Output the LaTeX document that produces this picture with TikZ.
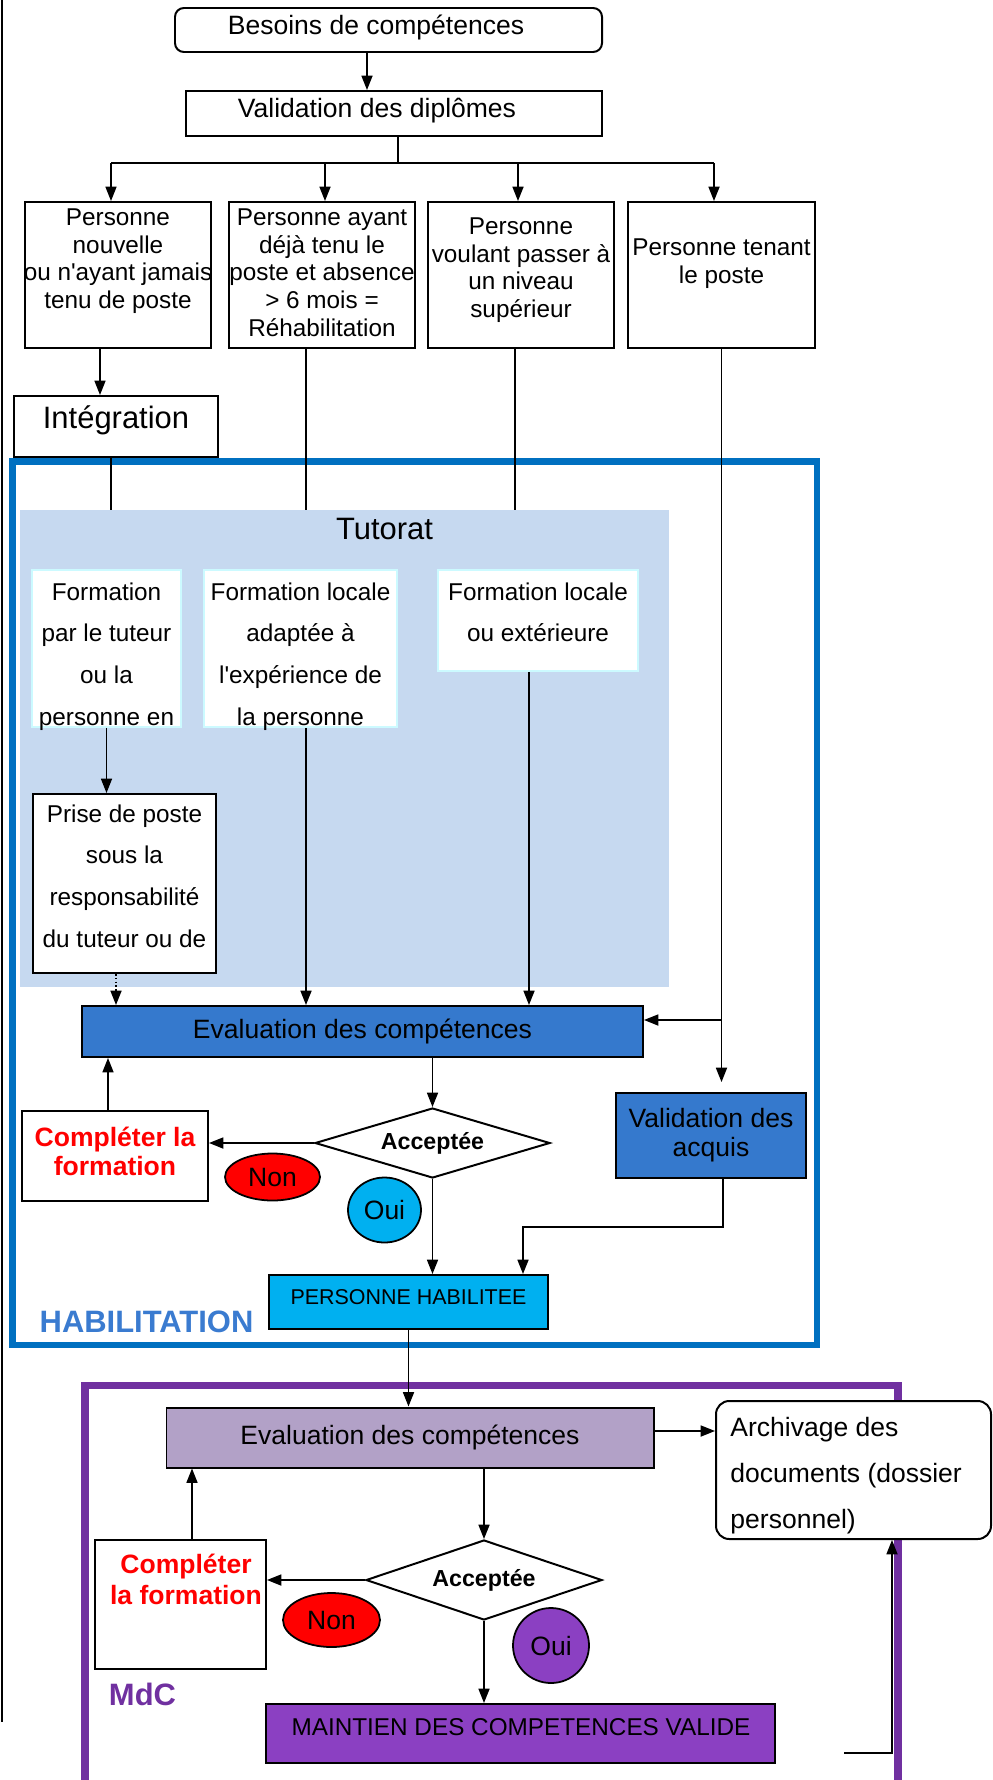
\documentclass[tikz,border=0pt]{standalone}
\usepackage{fontspec}
\setmainfont{Liberation Sans}[Ligatures=TeXOff]
\usetikzlibrary{arrows.meta,shapes.geometric}

\newdimen\pxunit
\pxunit=0.4525pt

\definecolor{habblue}{HTML}{0070C0}
\definecolor{habtext}{RGB}{58,123,208}
\definecolor{evalblue}{RGB}{53,121,205}
\definecolor{tutobg}{RGB}{198,217,240}
\definecolor{formborder}{RGB}{204,250,255}
\definecolor{skyblue}{HTML}{00B0F0}
\definecolor{mdcpurple}{HTML}{7030A0}
\definecolor{lavender}{HTML}{B2A1C7}
\definecolor{mdcviolet}{RGB}{139,64,194}

\begin{document}
\begin{tikzpicture}[x=0.4525pt, y=-0.4525pt,
        every node/.style={inner sep=0pt, font=\fontsize{12}{13.6}\selectfont},
        bw/.style={minimum width=#1*\pxunit},
        bh/.style={minimum height=#1*\pxunit},
        box/.style={draw, line width=0.9pt, fill=white},
        txt/.style={anchor=base, align=center},
        small/.style={font=\fontsize{11}{12.45}\selectfont},
        spaced/.style={font=\fontsize{11}{18.9}\selectfont},
        big/.style={font=\fontsize{14}{16}\selectfont},
        formbox/.style={draw=formborder, line width=0.8pt, fill=white},
        arr/.style={-{Triangle[length=6.5pt,width=5pt]}, line width=0.7pt},
        link/.style={line width=0.7pt},
        decision/.style={diamond, aspect=3.2, draw, line width=0.9pt, fill=white, font=\fontsize{10.5}{12}\selectfont\bfseries},
        answer/.style={ellipse, draw, line width=0.8pt}]

    \useasboundingbox (0,0) rectangle (993,1780);
    \clip (0,0) rectangle (993,1780);

    % Frames
    \draw[line width=1.3pt] (2,0) -- (2,1722);
    \draw[habblue, line width=2.95pt] (12.7,461.5) rectangle (817,1345);
    \draw[mdcpurple, line width=3.2pt] (85,1800) -- (85,1385.5) -- (898,1385.5) -- (898,1800);

    % Nodes (multi-line texts sit on the baseline of their last line)
    \node[box, rounded corners=4pt, bw=427, bh=44] (besoins) at (388.5,30) {};
    \node[txt] (besoinsT) at (376,35) {Besoins de compétences};
    \node[box, bw=416, bh=45] (valid) at (394,113.5) {};
    \node[txt] (validT) at (377,117) {Validation des diplômes};

    \node[box, bw=186, bh=146] (p1) at (118,275) {};
    \node[box, bw=186, bh=146] (p2) at (322,275) {};
    \node[box, bw=186, bh=146] (p3) at (521,275) {};
    \node[box, bw=187, bh=146] (p4) at (721.5,275) {};
    \node[txt, small] (p1T) at (118,308.5) {Personne\\nouvelle\\ou n'ayant jamais\\tenu de poste};
    \node[txt, small] (p2T) at (322,336) {Personne ayant\\déjà tenu le\\poste et absence\\> 6 mois =\\Réhabilitation};
    \node[txt, small] (p3T) at (521,317.5) {Personne\\voulant passer à\\un niveau\\supérieur};
    \node[txt, small] (p4T) at (721.5,283.5) {Personne tenant\\le poste};

    \node[box, bw=204, bh=61] (integ) at (116,426.5) {};
    \node[txt, big] (integT) at (116,428) {Intégration};

    \node[fill=tutobg, bw=649, bh=477] (tutorat) at (344.5,748.5) {};
    \node[txt, big] (tutoratT) at (384.5,539) {Tutorat};
    \node[formbox, bw=149, bh=157] (f1) at (106.5,648.5) {};
    \node[formbox, bw=193, bh=157] (f2) at (300.5,648.5) {};
    \node[formbox, bw=200, bh=101] (f3) at (538,620.5) {};
    \node[txt, spaced] (f1T) at (106.5,725.3) {Formation\\par le tuteur\\ou la\\personne en};
    \node[txt, spaced] (f2T) at (300.5,725.3) {Formation locale\\adaptée à\\l'expérience de\\la personne};
    \node[txt, spaced] (f3T) at (538,641.8) {Formation locale\\ou extérieure};
    \node[box, bw=183, bh=179] (prise) at (124.5,883.5) {};
    \node[txt, spaced] (priseT) at (124.5,947.3) {Prise de poste\\sous la\\responsabilité\\du tuteur ou de};

    \node[box, fill=evalblue, bw=561, bh=51] (eval1) at (362.5,1031.5) {Evaluation des compétences};
    \node[box, fill=evalblue, bw=190, bh=85, align=center, font=\fontsize{12}{13.1}\selectfont] (valacq) at (711,1135.5) {Validation des\\acquis};
    \node[decision, bw=235, bh=70] (acc1) at (432.5,1143) {Acceptée};
    \node[box, bw=186, bh=90] (compl1) at (115,1156) {};
    \node[txt, red, font=\fontsize{12}{13.1}\selectfont\bfseries] (compl1T) at (115,1175) {Compléter la\\formation};
    \node[answer, fill=red, bw=95, bh=47] (non1) at (272.5,1177) {Non};
    \node[answer, fill=skyblue, bw=73, bh=65] (oui1) at (384.5,1210) {Oui};
    \node[box, fill=skyblue, bw=279, bh=54] (ph) at (408.5,1302) {};
    \node[txt, font=\fontsize{9.7}{11}\selectfont] (phT) at (408.5,1304) {PERSONNE HABILITEE};
    \node[txt, habtext, font=\fontsize{14}{16}\selectfont\bfseries] (habT) at (146.5,1332) {HABILITATION};

    \node[box, fill=lavender, bw=487, bh=60] (eval2) at (410,1437.5) {Evaluation des compétences};
    \node[box, rounded corners=6pt, bw=275, bh=138] (archiv) at (853.5,1470) {};
    \node[txt, anchor=base west, align=left, font=\fontsize{12}{20.8}\selectfont] (archivT) at (730,1528) {Archivage des\\documents (dossier\\personnel)};
    \node[decision, bw=236, bh=80] (acc2) at (484,1580) {Acceptée};
    \node[box, bw=171, bh=129] (compl2) at (180.5,1604) {};
    \node[txt, red, font=\fontsize{12}{13.6}\selectfont\bfseries] (compl2T) at (186,1604) {Compléter\\la formation};
    \node[answer, fill=red, bw=97, bh=54] (non2) at (331.5,1620) {Non};
    \node[answer, fill=mdcviolet, bw=76, bh=75] (oui2) at (551,1645.5) {Oui};
    \node[txt, mdcpurple, font=\fontsize{14}{16}\selectfont\bfseries] (mdcT) at (142.5,1705) {MdC};
    \node[box, fill=mdcviolet, bw=509, bh=59] (maintien) at (520.5,1733.5) {};
    \node[txt, small] (maintienT) at (521,1735) {MAINTIEN DES COMPETENCES VALIDE};

    % Columns and rows the links run along
    \coordinate (colM) at (367,0);
    \coordinate (colA) at (100,0);
    \coordinate (colB) at (111,0);
    \coordinate (colP) at (325,0);
    \coordinate (colQ) at (518,0);
    \coordinate (colR) at (714,0);
    \coordinate (colC) at (306,0);
    \coordinate (colD) at (515,0);
    \coordinate (colE) at (116,0);
    \coordinate (colF) at (529,0);
    \coordinate (colG) at (108,0);
    \coordinate (colH) at (723,0);
    \coordinate (colK) at (192,0);
    \coordinate (colL) at (892,0);
    \coordinate (split) at (398,163);
    \coordinate (rowB) at (0,1020);
    \coordinate (rowA) at (0,1431);
    \coordinate (bend) at (523,1227);
    \coordinate (mEnd) at (844,1753);

    % Edges
    \draw[arr] (besoins.south -| colM) -- (valid.north -| colM);
    \draw[link] (valid.south -| split) -- (split);
    \draw[link] (split -| colB) -- (split -| colR);
    \draw[arr] (split -| colB) -- (p1.north -| colB);
    \draw[arr] (split -| colP) -- (p2.north -| colP);
    \draw[arr] (split -| colQ) -- (p3.north -| colQ);
    \draw[arr] (split -| colR) -- (p4.north -| colR);

    \draw[arr] (p1.south -| colA) -- (integ.north -| colA);
    \draw[link] (integ.south -| colB) -- (tutorat.north -| colB);
    \draw[link] (p2.south -| colC) -- (tutorat.north -| colC);
    \draw[link] (p3.south -| colD) -- (tutorat.north -| colD);
    \draw[arr] (f1) -- (f1 |- prise.north);
    \draw[arr, densely dotted] (prise.south -| colE) -- (eval1.north -| colE);
    \draw[arr] (f2.south -| colC) -- (eval1.north -| colC);
    \draw[arr] (f3.south -| colF) -- (eval1.north -| colF);
    \draw[arr, shorten >=4.5pt] (p4) -- (p4 |- valacq.north);
    \draw[arr] (p4.south |- rowB) -- (eval1.east |- rowB);

    \draw[arr] (eval1.south -| acc1) -- (acc1.north);
    \draw[arr] (acc1.west) -- (acc1.west -| compl1.east);
    \draw[arr] (compl1.north -| colG) -- (eval1.south -| colG);
    \draw[arr] (acc1.south) -- (acc1.south |- ph.north);
    \draw[arr] (valacq.south -| colH) |- (bend) -- (bend |- ph.north);
    \draw[arr] (ph.south) -- (ph.south |- eval2.north);

    \draw[arr] (eval2.east |- rowA) -- (archiv.west |- rowA);
    \draw[arr] (eval2.south -| acc2) -- (acc2.north);
    \draw[arr] (acc2.west) -- (acc2.west -| compl2.east);
    \draw[arr] (compl2.north -| colK) -- (eval2.south -| colK);
    \draw[arr] (acc2.south) -- (acc2.south |- maintien.north);
    \draw[arr] (mEnd) -| (archiv.south -| colL);
\end{tikzpicture}
\end{document}
